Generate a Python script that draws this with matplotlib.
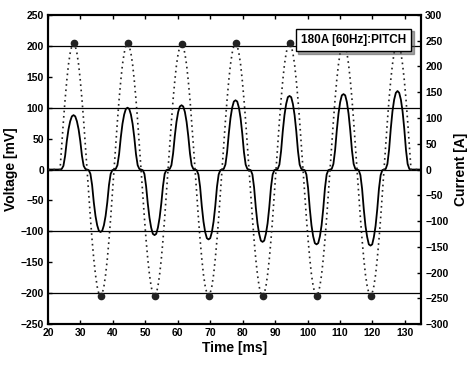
import numpy as np
import matplotlib
matplotlib.use("Agg")
import matplotlib.pyplot as plt
from matplotlib.lines import Line2D
from matplotlib.ticker import MultipleLocator

plt.rcParams['font.family'] = ['Liberation Sans', 'DejaVu Sans']

# ---- data ----
t_first, t_last = 23.7, 131.9          # waveform start / end [ms]
t_pre, t_post = 20.0, 135.0            # flat zero before / after
n_samples = 209                        # 16 samples per half cycle, 13 half cycles

# voltage [mV] (solid), 16 samples per half-cycle
voltage_mv = [
    0, 1, 6, 22, 46, 65, 78, 86, 88, 86, 78, 65, 46, 22, 6, 1,
    0, -1, -7, -25, -53, -75, -90, -99, -101, -99, -90, -75, -53, -25, -7, -1,
    0, 1, 7, 25, 52, 74, 89, 98, 100, 98, 89, 74, 52, 25, 7, 1,
    0, -1, -7, -27, -55, -78, -94, -104, -106, -104, -94, -78, -55, -27, -7, -1,
    0, 1, 7, 26, 54, 77, 93, 102, 104, 102, 93, 77, 54, 26, 7, 1,
    0, -1, -8, -28, -59, -84, -101, -111, -113, -111, -101, -84, -59, -28, -8, -1,
    0, 1, 8, 28, 58, 83, 100, 110, 112, 110, 100, 83, 58, 28, 8, 1,
    0, -1, -8, -29, -61, -87, -104, -115, -117, -115, -104, -87, -61, -29, -8, -1,
    0, 1, 8, 30, 62, 88, 106, 117, 119, 117, 106, 88, 62, 30, 8, 1,
    0, -1, -8, -30, -63, -90, -108, -119, -121, -119, -108, -90, -63, -30, -8, -1,
    0, 1, 9, 31, 63, 90, 109, 120, 122, 120, 109, 90, 63, 31, 9, 1,
    0, -1, -9, -31, -64, -91, -109, -121, -123, -121, -109, -91, -64, -31, -9, -1,
    0, 1, 9, 32, 66, 94, 113, 124, 127, 124, 113, 94, 66, 32, 9, 1,
    0,
]

# current [A] (dotted), 16 samples per half-cycle
current_a = [
    0, 48, 94, 136, 173, 204, 226, 240, 245, 240, 226, 204, 173, 136, 94, 48,
    0, -48, -94, -137, -174, -204, -227, -241, -246, -241, -227, -204, -174, -137, -94, -48,
    0, 48, 94, 136, 173, 204, 226, 240, 245, 240, 226, 204, 173, 136, 94, 48,
    0, -48, -94, -137, -174, -204, -227, -241, -246, -241, -227, -204, -174, -137, -94, -48,
    0, 48, 93, 136, 172, 203, 225, 239, 244, 239, 225, 203, 172, 136, 93, 48,
    0, -48, -94, -136, -173, -204, -226, -240, -245, -240, -226, -204, -173, -136, -94, -48,
    0, 48, 94, 136, 173, 204, 226, 240, 245, 240, 226, 204, 173, 136, 94, 48,
    0, -48, -94, -137, -174, -204, -227, -241, -246, -241, -227, -204, -174, -137, -94, -48,
    0, 48, 94, 136, 173, 204, 226, 240, 245, 240, 226, 204, 173, 136, 94, 48,
    0, -48, -94, -136, -173, -204, -226, -240, -245, -240, -226, -204, -173, -136, -94, -48,
    0, 48, 94, 137, 174, 204, 227, 241, 246, 241, 227, 204, 174, 137, 94, 48,
    0, -48, -94, -136, -173, -204, -226, -240, -245, -240, -226, -204, -173, -136, -94, -48,
    0, 48, 94, 137, 174, 204, 227, 241, 246, 241, 227, 204, 174, 137, 94, 48,
    0,
]

ref_levels_mv = [-200, -100, 0, 100, 200]
legend_text = "180A [60Hz]:PITCH"

# ---- build time base ----
t_wave = np.linspace(t_first, t_last, n_samples)
t = np.concatenate([[t_pre], t_wave, [t_post]])
v = np.concatenate([[0], voltage_mv, [0]])
i = np.concatenate([[0], current_a, [0]])

fig = plt.figure(figsize=(4.71, 3.65), dpi=100)
ax = fig.add_axes([0.102, 0.112, 0.792, 0.847])
ax2 = ax.twinx()

for lv in ref_levels_mv:
    ax.axhline(lv, color='black', lw=0.9, zorder=1)

ax.plot(t, v, color='black', lw=1.3, zorder=3)
ax2.plot(t, i, color='#222222', lw=1.2, ls=(0, (1, 2.2)), zorder=3,
         marker='o', markersize=4.5, markevery=(9, 16))

ax.set_xlim(20, 135)
ax.set_ylim(-250, 250)
ax2.set_ylim(-300, 300)

ax.xaxis.set_major_locator(MultipleLocator(10))
ax.yaxis.set_major_locator(MultipleLocator(50))
ax2.yaxis.set_major_locator(MultipleLocator(50))

fs = 7.5
ax.tick_params(axis='both', direction='in', length=3, width=1, labelsize=fs,
               top=True, pad=3)
ax2.tick_params(axis='y', direction='in', length=3, width=1, labelsize=fs, pad=3)
for lab in ax.get_xticklabels() + ax.get_yticklabels() + ax2.get_yticklabels():
    lab.set_fontweight('bold')

for a in (ax, ax2):
    for s in a.spines.values():
        s.set_linewidth(1.5)

ax.set_xlabel('Time [ms]', fontsize=10, fontweight='bold', labelpad=2)
ax.set_ylabel('Voltage [mV]', fontsize=10, fontweight='bold', labelpad=2)
ax2.set_ylabel('Current [A]', fontsize=10, fontweight='bold', labelpad=4)

leg = ax2.legend([Line2D([], [], ls='none')], [legend_text], loc='upper right',
                 handlelength=0, handletextpad=0, shadow=True, fancybox=False,
                 framealpha=1, edgecolor='black', borderpad=0.45,
                 bbox_to_anchor=(0.99, 0.975),
                 prop={'weight': 'bold', 'size': 8.5})
leg.get_frame().set_linewidth(1.0)

fig.savefig('out.png', dpi=100)
